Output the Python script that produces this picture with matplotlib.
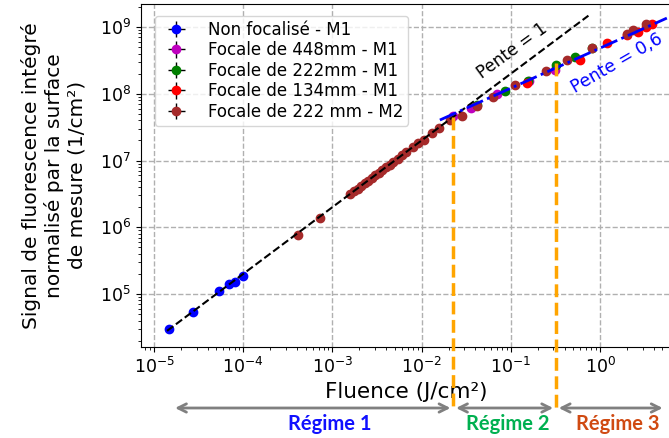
import numpy as np
import matplotlib
matplotlib.use("Agg")
import matplotlib.pyplot as plt
import matplotlib.transforms as mtransforms

# === Data ===
# Non focalisé - M1
nf_x = [1.48e-5, 2.75e-5, 5.4e-5, 6.9e-5, 8.1e-5, 1.0e-4]
nf_y = [2.95e4, 5.4e4, 1.12e5, 1.41e5, 1.51e5, 1.86e5]

# Focale de 448mm - M1
f448_x = [2.24e-2, 3.55e-2, 6.9e-2, 0.158, 0.316]
f448_y = [4.57e7, 6.03e7, 1.0e8, 1.58e8, 2.29e8]

# Focale de 222mm - M1
f222_x = [4.13e-2, 8.5e-2, 0.156, 0.324, 0.525, 0.81]
f222_y = [6.76e7, 1.1e8, 1.58e8, 2.69e8, 3.55e8, 4.79e8]

# Focale de 134mm - M1
f134_x = [0.151, 0.6, 1.19, 2.0, 2.69, 3.31, 3.8]
f134_y = [1.45e8, 3.16e8, 5.75e8, 7.59e8, 8.5e8, 1.0e9, 1.12e9]

# Focale de 222 mm - M2
m2_x = [4.07e-4, 7.2e-4, 1.58e-3, 1.74e-3, 1.91e-3, 2.09e-3, 2.29e-3, 2.51e-3,
        2.75e-3, 3.02e-3, 3.31e-3, 3.63e-3, 3.98e-3, 4.37e-3, 4.79e-3, 5.37e-3,
        6.03e-3, 6.76e-3, 7.94e-3, 9.12e-3, 1.05e-2, 1.32e-2, 1.58e-2, 2.09e-2,
        2.82e-2, 4.17e-2, 6.3e-2, 0.11, 0.245, 0.427, 0.81, 2.0, 2.34, 3.31]
m2_y = [7.6e5, 1.38e6, 3.16e6, 3.47e6, 3.8e6, 4.17e6, 4.57e6, 5.0e6,
        5.5e6, 6.03e6, 6.6e6, 7.24e6, 7.94e6, 8.7e6, 9.55e6, 1.07e7,
        1.2e7, 1.35e7, 1.58e7, 1.82e7, 2.04e7, 2.57e7, 3.02e7, 3.98e7,
        4.68e7, 6.6e7, 8.9e7, 1.35e8, 2.19e8, 3.16e8, 4.79e8, 7.94e8, 8.9e8, 1.12e9]

series = [
    ("Non focalisé - M1", nf_x, nf_y, "blue"),
    ("Focale de 448mm - M1", f448_x, f448_y, "m"),
    ("Focale de 222mm - M1", f222_x, f222_y, "green"),
    ("Focale de 134mm - M1", f134_x, f134_y, "red"),
    ("Focale de 222 mm - M2", m2_x, m2_y, "brown"),
]

# Fit lines (end points)
fit1_x = [1.4e-5, 0.74]
fit1_y = [2.8e4, 1.48e9]
fit2_x = [1.6e-2, 5.6]
fit2_y = [4.04e7, 1.36e9]

# Regime boundaries
bound_x = [0.0226, 0.32]
bound_top = [4.47e7, 2.88e8]

# Regime arrows and labels
regime_edges = [1.6e-5, 0.0226, 0.32, 5.4]
regime_label_x = [9.3e-4, 0.092, 1.59]
regime_labels = ["Régime 1", "Régime 2", "Régime 3"]
regime_colors = ["#1010FF", "#00B050", "#D04A12"]

W, H = 669, 438
fig = plt.figure(figsize=(W / 100, H / 100), dpi=100)
ax = fig.add_axes([141 / W, (H - 346.7) / H, (672 - 141) / W, (346.7 - 4) / H])

for label, x, y, color in series:
    x = np.array(x)
    y = np.array(y)
    ax.errorbar(x, y, xerr=0.08 * x, yerr=0.12 * y, fmt="o", color=color,
                ecolor="black", elinewidth=1, capsize=0, markersize=6,
                label=label)

ax.plot(fit1_x, fit1_y, "k--", lw=1.5, zorder=5)
ax.plot(fit2_x, fit2_y, "b-.", lw=2, zorder=5)

ax.set_xscale("log")
ax.set_yscale("log")
ax.set_xlim(10 ** -5.146, 10 ** 0.806)
ax.set_ylim(10 ** 4.21, 10 ** 9.345)

ax.grid(True, which="major", color="#b0b0b0", linestyle="--", linewidth=1)
ax.tick_params(labelsize=12.5)
ax.set_xlabel("Fluence (J/cm²)", fontsize=15.5, labelpad=4)
ax.set_ylabel("Signal de fluorescence intégré\nnormalisé par la surface\nde mesure (1/cm²)",
              fontsize=14.5, labelpad=10)

ax.text(0.1035, 4.4e8, "Pente = 1", rotation=36, fontsize=12, ha="center",
        va="center", color="black")
ax.text(1.55, 2.9e8, "Pente = 0,6", rotation=30, fontsize=12.5, ha="center",
        va="center", color="blue")

leg = ax.legend(loc="upper left", fontsize=12, labelspacing=0.15,
                borderpad=0.3, handletextpad=0.9, bbox_to_anchor=(0.01, 0.99))

# vertical regime boundaries, going below the axes
blend = mtransforms.blended_transform_factory(ax.transData, fig.transFigure)
bottom_y = 1 - 410 / H
for bx, top in zip(bound_x, bound_top):
    y_top_fig = fig.transFigure.inverted().transform(ax.transData.transform((bx, top)))[1]
    ax.plot([bx, bx], [y_top_fig, bottom_y], transform=blend, color="orange",
            linestyle="--", lw=2.5, clip_on=False, zorder=6)

# regime arrows
arrow_y = 1 - 408 / H
for i in range(3):
    ax.annotate("", xy=(regime_edges[i + 1], arrow_y), xycoords=blend,
                xytext=(regime_edges[i], arrow_y), textcoords=blend,
                arrowprops=dict(arrowstyle="<->", color="#808080", lw=2,
                                shrinkA=2, shrinkB=2, mutation_scale=15))
    ax.text(regime_label_x[i], 1 - 424 / H, regime_labels[i], transform=blend,
            ha="center", va="center", fontsize=14.5, fontweight="bold",
            family="Lato", color=regime_colors[i])

fig.savefig("out.png", dpi=100)
